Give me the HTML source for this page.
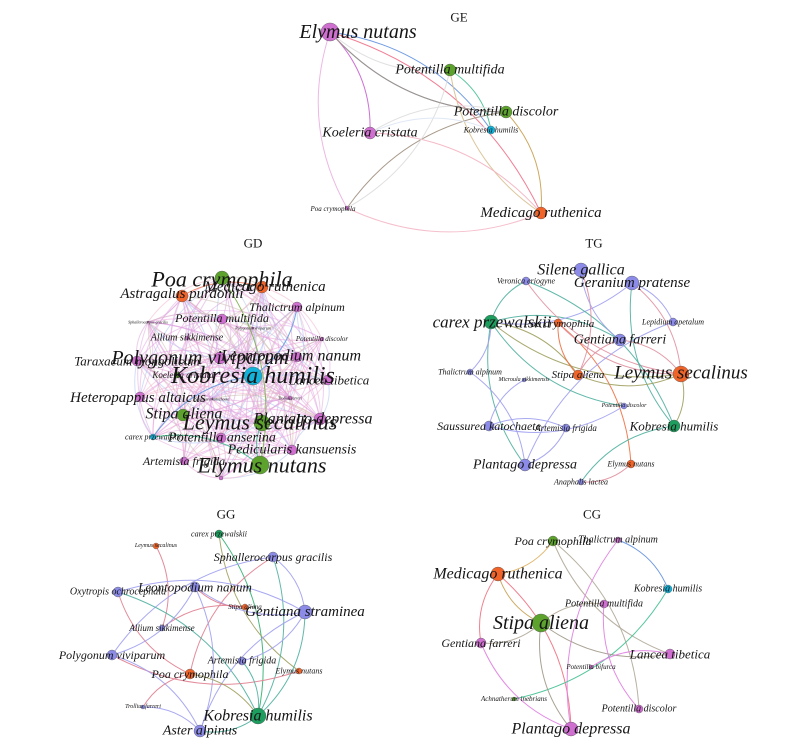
<!DOCTYPE html>
<html><head><meta charset="utf-8">
<style>
html,body{margin:0;padding:0;background:#fff;}
svg{display:block;}
text{font-family:"Liberation Serif",serif;font-style:italic;fill:#151515;text-anchor:middle;dominant-baseline:central;}
text.t{font-style:normal;}
</style></head><body>
<svg id="s" width="800" height="752" viewBox="0 0 800 752" xmlns="http://www.w3.org/2000/svg">
<g id="edges" fill="none"></g>
<g id="nodes" stroke="#555" stroke-width="0.4"></g>
<g id="labels">
<text class="t" x="459" y="17" font-size="13">GE</text>
<text class="t" x="253" y="243" font-size="13">GD</text>
<text class="t" x="594" y="243" font-size="13">TG</text>
<text class="t" x="226" y="514" font-size="13">GG</text>
<text class="t" x="592" y="514" font-size="13">CG</text>
<!-- GE -->
<text x="358" y="32" font-size="20">Elymus nutans</text>
<text x="450" y="70" font-size="14">Potentilla multifida</text>
<text x="506" y="112" font-size="14">Potentilla discolor</text>
<text x="370" y="133" font-size="14">Koeleria cristata</text>
<text x="491" y="130" font-size="8">Kobresia humilis</text>
<text x="333" y="209" font-size="7">Poa crymophila</text>
<text x="541" y="213" font-size="15">Medicago ruthenica</text>
<!-- GD -->
<text x="222" y="279" font-size="22">Poa crymophila</text>
<text x="265" y="287" font-size="15">Medicago ruthenica</text>
<text x="182" y="294" font-size="15">Astragalus purdomii</text>
<text x="297" y="307" font-size="12">Thalictrum alpinum</text>
<text x="222" y="318" font-size="12">Potentilla multifida</text>
<text x="148" y="322" font-size="4">Sphallerocarpus gracilis</text>
<text x="253" y="328" font-size="4">Polygonum viviparum</text>
<text x="187" y="338" font-size="10">Allium sikkimense</text>
<text x="322" y="339" font-size="7">Potentilla discolor</text>
<text x="200" y="358" font-size="20">Polygonum viviparum</text>
<text x="291" y="356" font-size="16">Leontopodium nanum</text>
<text x="137" y="361" font-size="13">Taraxacum mongolicum</text>
<text x="253" y="376" font-size="24">Kobresia humilis</text>
<text x="183" y="375" font-size="9">Koeleria cristata</text>
<text x="329" y="380" font-size="13">Lancea tibetica</text>
<text x="138" y="398" font-size="15">Heteropappus altaicus</text>
<text x="212" y="399" font-size="4">Saussurea katochaete</text>
<text x="290" y="398" font-size="4">Trollius farreri</text>
<text x="184" y="414" font-size="16">Stipa aliena</text>
<text x="260" y="422" font-size="22">Leymus secalinus</text>
<text x="313" y="419" font-size="16">Plantago depressa</text>
<text x="153" y="437" font-size="8">carex przewalskii</text>
<text x="222" y="438" font-size="14">Potentilla anserina</text>
<text x="292" y="450" font-size="14">Pedicularis kansuensis</text>
<text x="184" y="461" font-size="12">Artemisia frigida</text>
<text x="262" y="465" font-size="22">Elymus nutans</text>
<!-- TG -->
<text x="581" y="270" font-size="16">Silene gallica</text>
<text x="526" y="281" font-size="8">Veronica eriogyne</text>
<text x="632" y="283" font-size="15">Geranium pratense</text>
<text x="492" y="322" font-size="17">carex przewalskii</text>
<text x="559" y="324" font-size="11">Poa crymophila</text>
<text x="673" y="322" font-size="8">Lepidium apetalum</text>
<text x="620" y="340" font-size="14">Gentiana farreri</text>
<text x="470" y="372" font-size="8">Thalictrum alpinum</text>
<text x="524" y="380" font-size="6">Microula sikkimensis</text>
<text x="578" y="375" font-size="11">Stipa aliena</text>
<text x="681" y="373" font-size="19">Leymus secalinus</text>
<text x="624" y="406" font-size="6">Potentilla discolor</text>
<text x="489" y="426" font-size="12">Saussurea katochaete</text>
<text x="566" y="428" font-size="9">Artemisia frigida</text>
<text x="674" y="426" font-size="13">Kobresia humilis</text>
<text x="525" y="465" font-size="14">Plantago depressa</text>
<text x="631" y="464" font-size="8">Elymus nutans</text>
<text x="581" y="482" font-size="8">Anaphalis lactea</text>
<!-- GG -->
<text x="219" y="534" font-size="8">carex przewalskii</text>
<text x="156" y="546" font-size="6">Leymus secalinus</text>
<text x="273" y="557" font-size="12">Sphallerocarpus gracilis</text>
<text x="195" y="587" font-size="13">Leontopodium nanum</text>
<text x="118" y="592" font-size="10">Oxytropis ochrocephala</text>
<text x="245" y="607" font-size="7">Stipa aliena</text>
<text x="305" y="612" font-size="15">Gentiana straminea</text>
<text x="162" y="628" font-size="9">Allium sikkimense</text>
<text x="112" y="655" font-size="12">Polygonum viviparum</text>
<text x="242" y="661" font-size="10">Artemisia frigida</text>
<text x="299" y="671" font-size="8">Elymus nutans</text>
<text x="190" y="674" font-size="12">Poa crymophila</text>
<text x="143" y="707" font-size="6">Trollius farreri</text>
<text x="258" y="716" font-size="16">Kobresia humilis</text>
<text x="200" y="731" font-size="14">Aster alpinus</text>
<!-- CG -->
<text x="553" y="541" font-size="12">Poa crymophila</text>
<text x="618" y="540" font-size="10">Thalictrum alpinum</text>
<text x="498" y="574" font-size="16">Medicago ruthenica</text>
<text x="668" y="589" font-size="10">Kobresia humilis</text>
<text x="604" y="604" font-size="10">Potentilla multifida</text>
<text x="541" y="623" font-size="20">Stipa aliena</text>
<text x="481" y="643" font-size="12">Gentiana farreri</text>
<text x="670" y="654" font-size="13">Lancea tibetica</text>
<text x="591" y="667" font-size="7">Potentilla bifurca</text>
<text x="514" y="699" font-size="7">Achnatherum inebrians</text>
<text x="639" y="709" font-size="10">Potentilla discolor</text>
<text x="571" y="729" font-size="16">Plantago depressa</text>
</g>
</svg>
<script>
var P="#cf6fd0",G="#5ca22c",DG="#1e9e5e",O="#f0642a",C="#12b2da",L="#8c8ce8";
var N={
ge:{en:[330,32,9,P],pm:[450,70,6,G],pd:[506,112,6,G],kc:[370,133,6,P],kh:[491,130,4,C],pc:[347,208,2,P],mr:[541,213,6,O]},
gd:{pc:[222,278,7,G],mr:[262,287,6,O],ap:[182,296,6,O],ta:[297,307,5,P],pm:[222,319,5,P],sg:[148,322,1,P],pv2:[253,328,1,P],as:[187,338,2,P],pd:[322,339,2,P],pv:[220,358,6,P],ln:[297,357,5,P],tm:[137,361,5,P],kh:[253,376,9,C],kc:[177,375,3,G],lt:[328,380,5,P],ha:[140,397,5,P],sk:[212,399,1,P],tf:[290,398,2,P],sa:[183,415,6,G],ls:[262,423,8,G],plg:[320,419,6,P],cp:[153,437,3,C],pa:[221,438,5,P],pk:[292,450,5,P],af:[184,461,4,P],en:[260,465,9,G],x1:[221,478,2,P]},
tg:{sg:[581,270,7,L],ve:[526,281,4,L],gp:[632,283,7,L],cp:[491,322,7,DG],pc:[558,323,4,O],la:[673,322,4,L],gf:[620,340,6,L],ta:[470,372,3,L],mi:[524,380,2,L],sa:[578,375,5,O],ls:[681,374,8,O],pd:[624,406,3,L],sk:[489,426,5,L],af:[566,428,4,L],kh:[674,426,6,DG],plg:[525,465,6,L],en:[631,464,4,O],al:[581,482,3,L]},
gg:{cp:[219,534,4,DG],ls:[156,546,3,O],sg:[273,557,5,L],ln:[195,587,5,L],oo:[118,592,5,L],sa:[245,607,3,O],gs:[305,612,7,L],as:[162,628,3,L],pv:[112,655,5,L],af:[242,661,4,L],en:[299,671,3,O],pc:[190,674,5,O],tf:[143,707,2,L],kh:[258,716,8,DG],aa:[200,731,6,L]},
cg:{pc:[553,541,5,G],ta:[618,540,3,P],mr:[498,574,7,O],kh:[668,589,4,C],pm:[604,604,4,P],sa:[541,623,9,G],gf:[481,643,5,P],lt:[670,654,5,P],pb:[591,667,2,P],ai:[514,699,2,G],pd:[639,709,4,P],plg:[571,729,7,P]}};
var E={
ge:[["en","mr","#f0708a"],["en","pd","#7aa0e0"],["en","kc","#c860d0"],["en","pc","#eab0e0"],["en","kh","#6090e0"],["en","pm","#ddd"],["pm","kh","#40c090"],["pm","mr","#d8c090"],["pd","mr","#c8a050"],["pd","pc","#a09080"],["kc","mr","#f4b0c0"],["pc","mr","#f4b8c8"],["kc","pd","#ddd"],["pc","pm","#ddd"],["kc","kh","#dde6f4"],["en","pd","#a09080"]],
tg:[["cp","sa","#a0a060"],["cp","ls","#a0a060"],["cp","gf","#50b0a0"],["cp","plg","#50b0a0"],["cp","ve","#50b0a0"],["cp","gp","#a0a0f0"],["cp","ta","#a0a0f0"],["ve","ls","#e090a0"],["ve","kh","#50b0a0"],["pc","sa","#f07040"],["pc","en","#f07040"],["pc","ls","#e090a0"],["sg","sa","#e090a0"],["sg","gf","#a0a0f0"],["gp","ls","#e090a0"],["gp","kh","#50b0a0"],["gp","la","#a0a0f0"],["gf","sa","#e090a0"],["gf","ls","#e090a0"],["sa","ls","#a0a060"],["ls","kh","#a0a060"],["la","plg","#a0a0f0"],["ta","plg","#a0a0f0"],["mi","sk","#a0a0f0"],["sk","af","#a0a0f0"],["sk","pd","#a0a0f0"],["af","plg","#a0a0f0"],["kh","al","#50b0a0"],["en","al","#e090a0"],["cp","pd","#50b0a0"]],
gg:[["cp","kh","#30b070"],["cp","en","#a0a060"],["ls","as","#e08090"],["sg","pc","#e08090"],["sg","kh","#50b0a0"],["sg","pv","#a0a0f0"],["sg","gs","#a0a0f0"],["ln","gs","#a0a0f0"],["ln","aa","#a0a0f0"],["ln","sa","#e08090"],["oo","gs","#a0a0f0"],["oo","pc","#e08090"],["oo","kh","#50b0a0"],["sa","as","#e08090"],["gs","kh","#50b0a0"],["gs","aa","#a0a0f0"],["gs","af","#a0a0f0"],["pv","en","#e08090"],["pv","aa","#a0a0f0"],["pv","ln","#a0a0f0"],["af","kh","#50b0a0"],["pc","tf","#e08090"],["pc","kh","#a0a060"],["aa","kh","#50b0a0"],["tf","aa","#a0a0f0"]],
cg:[["pc","mr","#e0b060"],["pc","lt","#b0a898"],["pc","pd","#b0a898"],["mr","sa","#c8a050"],["mr","plg","#f07080"],["mr","gf","#f07080"],["ta","kh","#6090e0"],["ta","plg","#e080e0"],["kh","ai","#40c090"],["sa","lt","#a09888"],["sa","gf","#b0a898"],["sa","plg","#a09888"],["sa","pm","#b0a898"],["pm","pd","#e080e0"],["pb","lt","#e080e0"],["gf","plg","#e080e0"]]};
// dense GD mesh
(function(){var k=Object.keys(N.gd),cols=["#e89ad8","#e0a0e0","#f0b0c8","#c8b8a8","#a8c0f0","#d8a0d8","#e6a8e6"],out=[];var s=7;for(var i=0;i<k.length;i++)for(var j=i+1;j<k.length;j++){s=(s*9301+49297)%233280;if(s/233280<0.55)out.push([k[i],k[j],cols[s%cols.length],0.5]);}
out.push(["kh","cp","#60a0e0"],["pc","en","#80b050"],["mr","ap","#f08060"],["ta","kh","#60a0e0"],["ls","en","#40c090"],["cp","en","#40c090"]);E.gd=out;})();
var eg=document.getElementById("edges"),ng=document.getElementById("nodes"),ns="http://www.w3.org/2000/svg";
for(var g in E){E[g].forEach(function(e,idx){var a=N[g][e[0]],b=N[g][e[1]];if(!a||!b)return;var mx=(a[0]+b[0])/2,my=(a[1]+b[1])/2,dx=b[0]-a[0],dy=b[1]-a[1];var f=(idx%2?0.22:-0.22);var cx=mx-dy*f,cy=my+dx*f;var p=document.createElementNS(ns,"path");p.setAttribute("d","M"+a[0]+","+a[1]+" Q"+cx+","+cy+" "+b[0]+","+b[1]);p.setAttribute("stroke",e[2]);p.setAttribute("stroke-width","1");p.setAttribute("opacity",e[3]||0.9);eg.appendChild(p);});}
for(var g in N)for(var k in N[g]){var n=N[g][k],c=document.createElementNS(ns,"circle");c.setAttribute("cx",n[0]);c.setAttribute("cy",n[1]);c.setAttribute("r",n[2]);c.setAttribute("fill",n[3]);ng.appendChild(c);}
</script>
</body></html>
